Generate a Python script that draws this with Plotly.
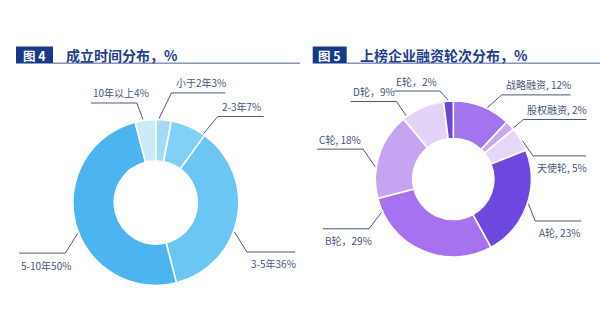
import math
import plotly.graph_objects as go

# ---- data -------------------------------------------------------------
age_groups = ["小于2年", "2-3年", "3-5年", "5-10年", "10年以上"]
age_share = [3, 7, 36, 50, 4]
age_colors = ["#a3daf6", "#82d0f5", "#6cc6f4", "#4cb4ee", "#cbeaf8"]

rounds = ["战略融资", "股权融资", "天使轮", "A轮", "B轮", "C轮", "D轮", "E轮"]
round_share = [12, 2, 5, 23, 29, 18, 9, 2]
round_sep = [", ", ", ", ", ", ", ", "，", ", ", "，", "，"]
round_colors = ["#a274ee", "#c9aaf1", "#e4d7f7", "#6d48de",
                "#a672f0", "#c6a4f1", "#e3d3f6", "#6a45d8"]

titles = [("图 4", "成立时间分布，%"), ("图 5", "上榜企业融资轮次分布，%")]

age_text = [f"{g}{v}%" for g, v in zip(age_groups, age_share)]
round_text = [f"{r}{s}{v}%" for r, s, v in zip(rounds, round_sep, round_share)]

# ---- layout constants (pixels) ---------------------------------------
W, H = 600, 336
FONT = "Noto Sans CJK SC"
FS = 10
LABEL_COLOR = "#46557a"
LINE_COLOR = "#4d5874"
NAVY = "#17398a"
SEG_MIN = 46  # shortest horizontal run of a leader line

left_geo = dict(cx=155.8, cy=202.5, r=83, hole=0.5)
right_geo = dict(cx=453.3, cy=179.0, r=78, hole=0.52)

# leader-line layout: where on the slice the line starts (0..1 of its arc),
# angular bend of the elbow, radial reach of the elbow, text below the line
left_leaders = dict(anchor=[0.2, 0.95, 0.575, 0.46, 0.39],
                    bend=[6, 1, 8, -7.6, -2],
                    reach=[27.7, 23, 20.6, 20.7, 18.3],
                    below=[False, False, True, True, False])
right_leaders = dict(anchor=[0.59, 0.9, 0.58, 0.48, 0.9, 0.36, 0.09, 0.49],
                     bend=[4.4, 0, 13, 9, -5.7, 9.4, 0.5, -5],
                     reach=[19, 14, 5, 14, 20, 17, 18, 11],
                     below=[False, False, True, True, True, False, False, False])


def polar(cx, cy, r, deg):
    a = math.radians(deg)
    return cx + r * math.sin(a), cy - r * math.cos(a)


def text_width(s, fs):
    w = 0.0
    for ch in s:
        if ord(ch) > 0x2E80:
            w += fs
        elif ch == "%":
            w += 0.84 * fs
        elif ch.isdigit():
            w += 0.56 * fs
        elif ch.isalpha():
            w += 0.62 * fs
        elif ch == "-":
            w += 0.36 * fs
        elif ch in ", ":
            w += 0.26 * fs
        else:
            w += 0.5 * fs
    return w


def domain_of(geo):
    cx, cy, r = geo["cx"], geo["cy"], geo["r"]
    return dict(x=[(cx - r) / W, (cx + r) / W],
                y=[(H - cy - r) / H, (H - cy + r) / H])


fig = go.Figure()

for geo, labels, vals, cols in [(left_geo, age_groups, age_share, age_colors),
                                (right_geo, rounds, round_share, round_colors)]:
    fig.add_trace(go.Pie(
        labels=labels, values=vals, sort=False, direction="clockwise",
        rotation=0, hole=geo["hole"], domain=domain_of(geo),
        marker=dict(colors=cols, line=dict(color="white", width=1.6)),
        textinfo="none", hoverinfo="skip", showlegend=False,
    ))

shapes = []
annotations = []


def add_leaders(geo, vals, texts, lay):
    cx, cy, R = geo["cx"], geo["cy"], geo["r"]
    total = float(sum(vals))
    cum = 0.0
    for i, v in enumerate(vals):
        a0 = 360 * cum / total
        a1 = 360 * (cum + v) / total
        cum += v
        ang = a0 + lay["anchor"][i] * (a1 - a0)
        x0, y0 = polar(cx, cy, R + 1, ang)
        x1, y1 = polar(cx, cy, R + lay["reach"][i], ang + lay["bend"][i])
        tw = text_width(texts[i], FS)
        if x1 >= cx:
            x2 = x1 + max(SEG_MIN, tw + 4)
            tx = x1 + 2
        else:
            x2 = x1 - SEG_MIN
            tx = x2
        shapes.append(dict(type="path", xref="x", yref="y",
                           path=f"M{x0:.2f},{y0:.2f} L{x1:.2f},{y1:.2f} L{x2:.2f},{y1:.2f}",
                           line=dict(color=LINE_COLOR, width=1)))
        if lay["below"][i]:
            ty, ya = y1 + 2.5, "top"
        else:
            ty, ya = y1 - 0.5, "bottom"
        annotations.append(dict(x=tx, y=ty, xref="x", yref="y", text=texts[i],
                                showarrow=False, xanchor="left", yanchor=ya,
                                font=dict(family=FONT, size=FS, color=LABEL_COLOR)))


add_leaders(left_geo, age_share, age_text, left_leaders)
add_leaders(right_geo, round_share, round_text, right_leaders)

# section headers: navy tag box, bold title, rule underneath
for (tag, title), (bx0, bx1, end) in zip(titles, [(16, 53, 300), (312.7, 346.7, 600)]):
    shapes.append(dict(type="rect", xref="x", yref="y", x0=bx0, x1=bx1, y0=46.5, y1=63.5,
                       fillcolor=NAVY, line=dict(width=0)))
    shapes.append(dict(type="line", xref="x", yref="y", x0=bx1, x1=end, y0=63.3, y1=63.3,
                       line=dict(color="#8796bc", width=1.6)))
    annotations.append(dict(x=(bx0 + bx1) / 2, y=55, xref="x", yref="y", text=f"<b>{tag}</b>",
                            showarrow=False, xanchor="center", yanchor="middle",
                            font=dict(family=FONT, size=12.5, color="white")))
    annotations.append(dict(x=bx1 + 11, y=55, xref="x", yref="y", text=f"<b>{title}</b>",
                            showarrow=False, xanchor="left", yanchor="middle",
                            font=dict(family=FONT, size=14, color="#1f3e8c")))

fig.update_layout(
    width=W, height=H,
    margin=dict(l=0, r=0, t=0, b=0),
    paper_bgcolor="white", plot_bgcolor="white",
    xaxis=dict(range=[0, W], visible=False, fixedrange=True),
    yaxis=dict(range=[H, 0], visible=False, fixedrange=True),
    shapes=shapes, annotations=annotations,
    showlegend=False,
)

fig.write_html("out.html")
